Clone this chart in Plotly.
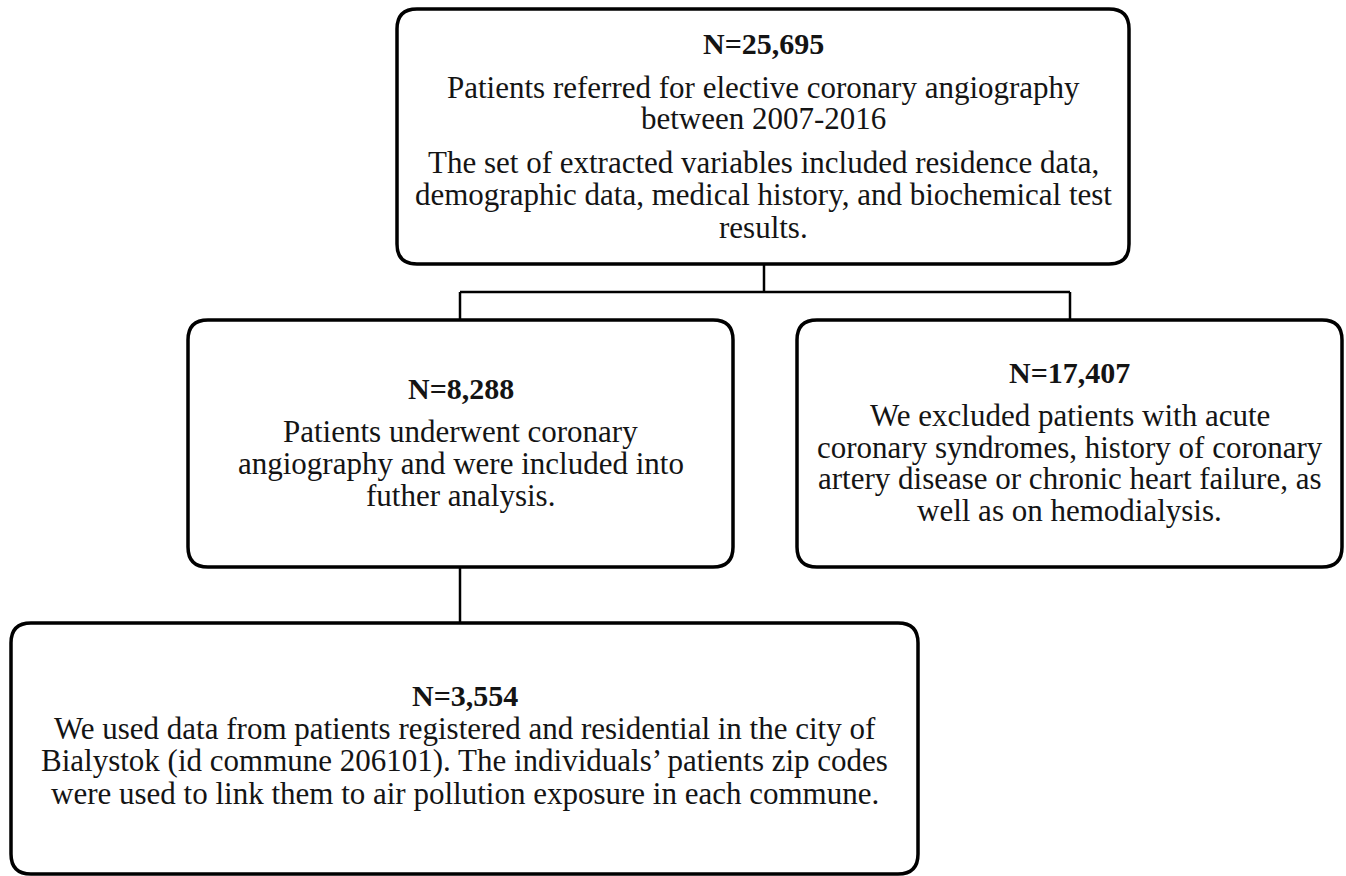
import plotly.graph_objects as go

# ---- content (data) ----
counts = ["N=25,695", "N=8,288", "N=17,407", "N=3,554"]
top_lines = [
    ["Patients referred for elective coronary angiography", "between 2007-2016"],
    ["The set of extracted variables included residence data,",
     "demographic data, medical history, and biochemical test",
     "results."],
]
left_lines = [["Patients underwent coronary",
               "angiography and were included into",
               "futher analysis."]]
right_lines = [["We excluded patients with acute",
                "coronary syndromes, history of coronary",
                "artery disease or chronic heart failure, as",
                "well as on hemodialysis."]]
bottom_lines = [["We used data from patients registered and residential in the city of",
                 "Bialystok (id commune 206101). The individuals\u2019 patients zip codes",
                 "were used to link them to air pollution exposure in each commune."]]

# ---- layout (positions in pixel space) ----
W, H = 1346, 876
boxes = [  # x0, y0, x1, y1
    (397, 9, 1129, 264),
    (188, 320, 733, 567),
    (797, 320, 1342, 567),
    (11, 623, 918, 874),
]
# baselines: count line, then each paragraph's lines
baselines = [
    (53, [[97, 128], [172, 204, 237]]),
    (398, [[441, 473, 505]]),
    (382, [[425, 457, 488, 520]]),
    (705, [[738, 770, 803]]),
]
paragraphs = [top_lines, left_lines, right_lines, bottom_lines]
connectors = [
    ((764, 264), (764, 292)),
    ((460, 292), (1070, 292)),
    ((460, 292), (460, 320)),
    ((1070, 292), (1070, 320)),
    ((460, 567), (460, 623)),
]

FONT = "Liberation Serif, Times New Roman, serif"
FS = 31
FS_BOLD = 30
TXT = "#141414"
R = 20


def rounded_path(x0, y0, x1, y1, r):
    return (f"M {x0+r},{y0} L {x1-r},{y0} Q {x1},{y0} {x1},{y0+r} "
            f"L {x1},{y1-r} Q {x1},{y1} {x1-r},{y1} "
            f"L {x0+r},{y1} Q {x0},{y1} {x0},{y1-r} "
            f"L {x0},{y0+r} Q {x0},{y0} {x0+r},{y0} Z")


fig = go.Figure()
shapes = []
for (a, b) in connectors:
    shapes.append(dict(type="line", xref="x", yref="y", x0=a[0], y0=a[1],
                       x1=b[0], y1=b[1], line=dict(color="black", width=2.5)))
for (x0, y0, x1, y1) in boxes:
    shapes.append(dict(type="path", xref="x", yref="y",
                       path=rounded_path(x0, y0, x1, y1, R),
                       fillcolor="white", line=dict(color="black", width=3.5)))

annotations = []
OFF = 10  # baseline -> visual middle offset
for i, (x0, y0, x1, y1) in enumerate(boxes):
    cx = (x0 + x1) / 2
    nb, pbs = baselines[i]
    annotations.append(dict(x=cx, y=nb - OFF, xref="x", yref="y",
                            text=f"<b>{counts[i]}</b>", showarrow=False,
                            xanchor="center", yanchor="middle",
                            font=dict(family=FONT, size=FS_BOLD, color=TXT)))
    for para, pb in zip(paragraphs[i], pbs):
        for line, b in zip(para, pb):
            annotations.append(dict(x=cx, y=b - OFF, xref="x", yref="y",
                                    text=line, showarrow=False,
                                    xanchor="center", yanchor="middle",
                                    font=dict(family=FONT, size=FS, color=TXT)))

fig.update_layout(
    width=W, height=H,
    margin=dict(l=0, r=0, t=0, b=0),
    paper_bgcolor="white", plot_bgcolor="white",
    xaxis=dict(range=[0, W], visible=False, fixedrange=True),
    yaxis=dict(range=[H, 0], visible=False, fixedrange=True),
    shapes=shapes, annotations=annotations, showlegend=False,
)
fig.write_html("out.html", config={"displayModeBar": False},
               post_script="document.body.style.margin='0';document.body.style.overflow='hidden';")
